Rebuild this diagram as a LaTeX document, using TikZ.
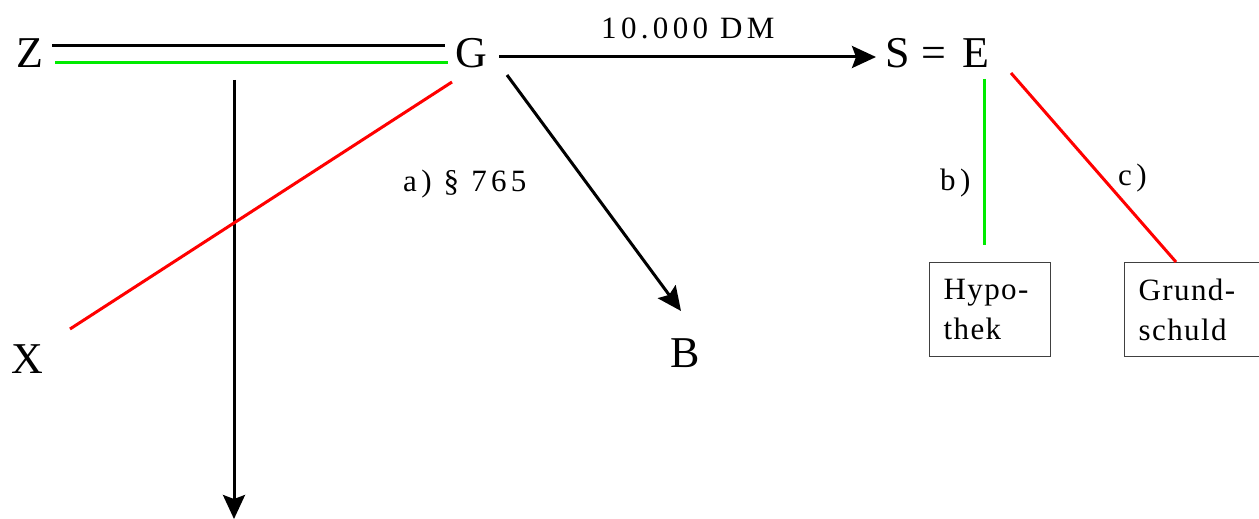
\documentclass[tikz,border=0pt]{standalone}
\usepackage{fontspec}
\setmainfont{Liberation Serif}
\usetikzlibrary{arrows.meta}
\definecolor{lgreen}{RGB}{0,235,0}
\definecolor{lred}{RGB}{255,0,0}
\tikzset{
  big/.style={inner sep=0pt, anchor=base, font=\fontsize{44}{48}\selectfont},
  lbl/.style={inner sep=0pt, anchor=base west, font=\fontsize{31}{36}\selectfont\addfontfeatures{LetterSpace=14}},
  ln/.style={line width=3pt},
  arr/.style={line width=3pt, -{Stealth[length=24pt, width=22pt, inset=4pt]}},
  box/.style={draw=black!75, line width=1.4pt, inner xsep=14pt, inner ysep=0pt,
    text width=93pt, align=left, anchor=north west, minimum height=94pt,
    font=\fontsize{31}{40}\selectfont\addfontfeatures{LetterSpace=4.5}},
}
\begin{document}
\begin{tikzpicture}[x=1pt,y=-1pt]
\useasboundingbox (0,0) rectangle (1259,519);
% main letters
\node[big] (Z) at (30,67) {Z};
\node[big] (G) at (471,67) {G};
\node[big, anchor=base west] (SE) at (885,67) {S\hspace{12pt}=\hspace{16pt}E};
\node[big] (X) at (27,373) {X};
\node[big] (B) at (685.5,367) {B};
% labels
\node[lbl] (dm) at (601,39) {10.000 DM};
\node[lbl] (la) at (403,191) {a) § 765};
\node[lbl] (lb) at (940,190) {b)};
\node[lbl] (lc) at (1118,185) {c)};
% boxes
\node[box] (hyp) at (929,262) {Hypo-\\thek};
\node[box, text width=107pt] (gs) at (1124,262) {Grund-\\schuld};
% coordinates
\coordinate (zg1) at (52,46);  \coordinate (zg2) at (445,46);
\coordinate (zg3) at (55,63);  \coordinate (zg4) at (448,63);
\coordinate (gs1) at (499,57); \coordinate (gs2) at (876,57);
\coordinate (v1) at (234,80);  \coordinate (v2) at (234,519);
\coordinate (gx1) at (452,82); \coordinate (gx2) at (70,329);
\coordinate (gb1) at (507,75); \coordinate (gb2) at (681,311);
\coordinate (b1) at (984,79);  \coordinate (b2) at (984,245);
\coordinate (c1) at (1011,73); \coordinate (c2) at (1176,262);
% connectors
\draw[ln] (zg1) -- (zg2);
\draw[ln, lgreen] (zg3) -- (zg4);
\draw[arr] (gs1) -- (gs2);
\draw[arr] (v1) -- (v2);
\draw[ln, lred] (gx1) -- (gx2);
\draw[arr] (gb1) -- (gb2);
\draw[ln, lgreen] (b1) -- (b2);
\draw[ln, lred] (c1) -- (c2);
\end{tikzpicture}
\end{document}
